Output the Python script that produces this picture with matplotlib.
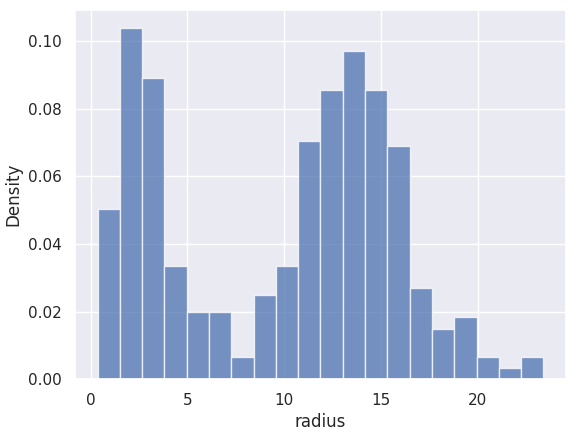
import matplotlib
matplotlib.use("Agg")
import matplotlib.pyplot as plt
import seaborn as sns
import numpy as np

sns.set_theme(style="darkgrid")

bin_start = 0.36
bin_end = 23.4
density = [0.0503, 0.104, 0.089, 0.0335, 0.020, 0.020, 0.0065, 0.025, 0.0335, 0.0705,
           0.0855, 0.097, 0.0855, 0.069, 0.027, 0.015, 0.0183, 0.0065, 0.0033, 0.0065]

edges = np.linspace(bin_start, bin_end, len(density) + 1)
fig, ax = plt.subplots(figsize=(5.79, 4.37), dpi=100)
fig.subplots_adjust(left=0.13, right=0.977, top=0.977, bottom=0.132)
ax.bar(edges[:-1], density, width=np.diff(edges), align="edge",
       color=sns.color_palette()[0], alpha=0.75, edgecolor="white", linewidth=1)
ax.set_xlabel("radius")
ax.set_ylabel("Density")
ax.set_xticks([0, 5, 10, 15, 20])
ax.set_yticks([0, 0.02, 0.04, 0.06, 0.08, 0.10])
ax.set_yticklabels(["0.00", "0.02", "0.04", "0.06", "0.08", "0.10"])
ax.set_xlim(-0.79, 24.55)
ax.set_ylim(0, 0.1092)
fig.savefig("out.png")
